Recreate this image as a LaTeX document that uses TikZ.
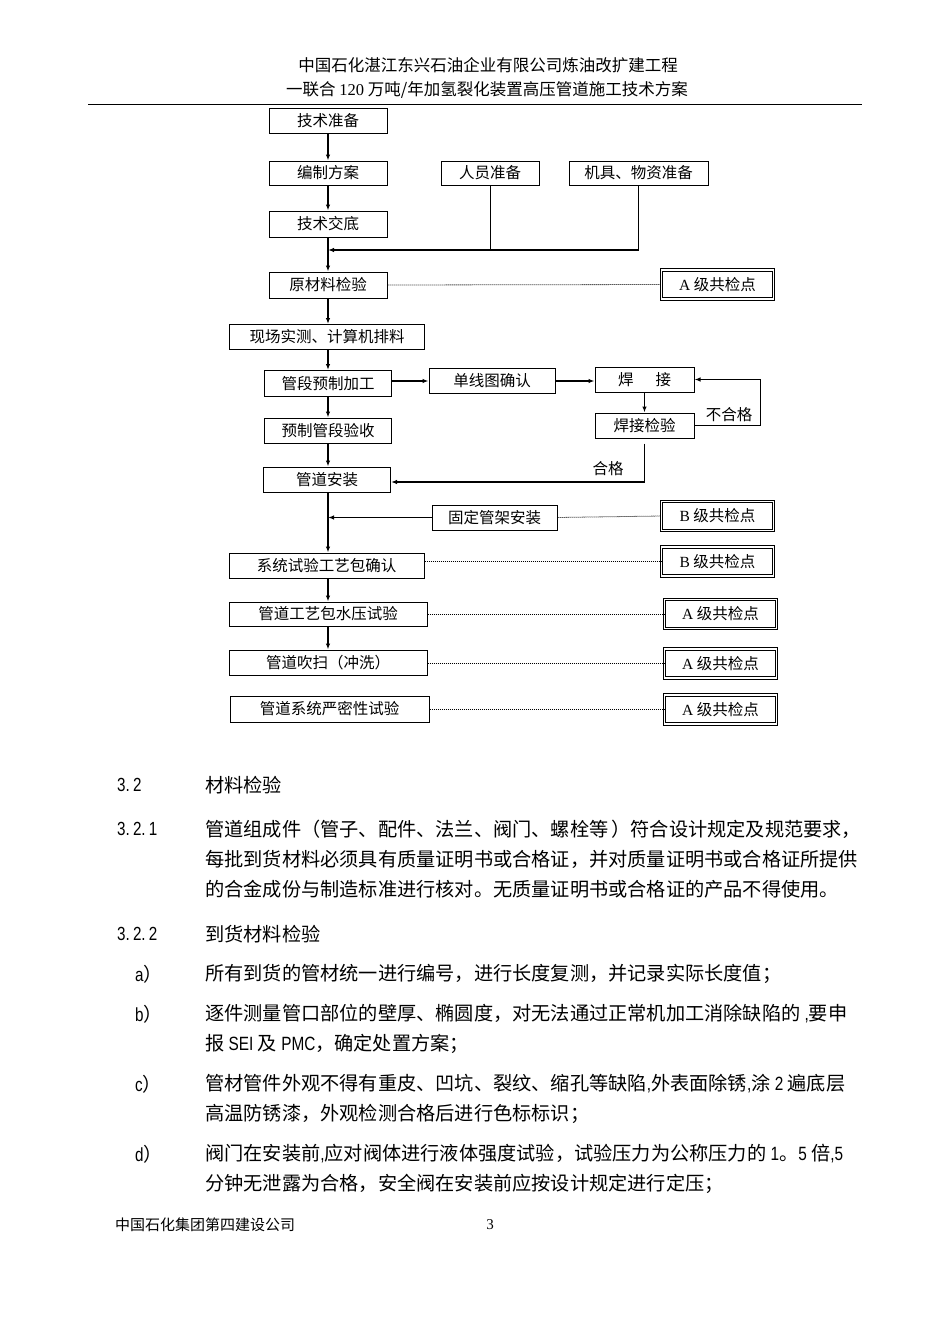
\documentclass[tikz,border=0pt]{standalone}
\usepackage{fontspec}
\setmainfont{Noto Sans CJK SC}
\newfontfamily\lat{Liberation Serif}
\newfontfamily\nar[FakeStretch=0.8]{Liberation Sans}
\usetikzlibrary{arrows.meta}
\begin{document}
\begin{tikzpicture}[x=1pt,y=-1pt,
  box/.style={draw, line width=1pt, inner sep=0pt, font=\fontsize{15.5}{16}\selectfont},
  chk/.style={draw, double, double distance=1.6pt, line width=0.8pt, inner sep=0pt, minimum width=112pt, minimum height=29pt, font=\fontsize{15.5}{16}\selectfont},
  arr/.style={line width=1.2pt, -{Latex[length=6pt,width=4.5pt]}},
  ln/.style={line width=1.2pt},
  thinln/.style={line width=0.8pt},
  dot/.style={line width=0.8pt, dash pattern=on 1pt off 1pt},
  lab/.style={font=\fontsize{15.5}{16}\selectfont, inner sep=0pt},
  hd/.style={font=\fontsize{16.5}{17}\selectfont, inner sep=0pt},
  body/.style={font=\fontsize{19.2}{20}\selectfont, inner sep=0pt, anchor=west},
  num/.style={font=\fontsize{19}{20}\selectfont, inner sep=0pt, anchor=west}]
\useasboundingbox (0,0) rectangle (950,1344);
\fill[white] (0,0) rectangle (950,1344);
% header
\node[hd] (h1) at (488,65) {中国石化湛江东兴石油企业有限公司炼油改扩建工程};
\node[hd] (h2) at (487,90) {一联合 {\lat 120} 万吨/年加氢裂化装置高压管道施工技术方案};
\coordinate (r1) at (88,104);
\coordinate (r2) at (862,104);
\draw[line width=0.8pt] (r1) -- (r2);
% flowchart boxes
\node[box, minimum width=118pt, minimum height=25pt] (s1) at (328,120.5) {技术准备};
\node[box, minimum width=118pt, minimum height=24pt] (s2) at (328,173) {编制方案};
\node[box, minimum width=98pt, minimum height=24pt] (p1) at (490,173) {人员准备};
\node[box, minimum width=139pt, minimum height=24pt] (p2) at (638.5,173) {机具、物资准备};
\node[box, minimum width=118pt, minimum height=26pt] (s3) at (328,224) {技术交底};
\node[box, minimum width=118pt, minimum height=26pt] (s4) at (328,285) {原材料检验};
\node[chk] (q1) at (717.5,284.5) {{\lat A} 级共检点};
\node[box, minimum width=195pt, minimum height=25pt] (s5) at (327,337) {现场实测、计算机排料};
\node[box, minimum width=127pt, minimum height=26pt] (s6) at (328,383.5) {管段预制加工};
\node[box, minimum width=126pt, minimum height=25pt] (w1) at (492,381) {单线图确认};
\node[box, minimum width=99pt, minimum height=25pt] (w2) at (644.5,379.5) {焊\hspace{22pt}接};
\node[box, minimum width=99pt, minimum height=25pt] (w3) at (644.5,425.5) {焊接检验};
\node[box, minimum width=127pt, minimum height=25pt] (s7) at (328,430.5) {预制管段验收};
\node[box, minimum width=127pt, minimum height=25pt] (s8) at (327,479.5) {管道安装};
\node[box, minimum width=125pt, minimum height=25pt] (g1) at (494.5,517.5) {固定管架安装};
\node[chk] (q2) at (717.5,516) {{\lat B} 级共检点};
\node[box, minimum width=195pt, minimum height=25pt] (s9) at (326.5,565.5) {系统试验工艺包确认};
\node[chk] (q3) at (717.5,561.5) {{\lat B} 级共检点};
\node[box, minimum width=198pt, minimum height=24pt] (s10) at (328,614) {管道工艺包水压试验};
\node[chk] (q4) at (720.5,614) {{\lat A} 级共检点};
\node[box, minimum width=198pt, minimum height=25pt] (s11) at (328,662.5) {管道吹扫（冲洗）};
\node[chk] (q5) at (720.5,663.5) {{\lat A} 级共检点};
\node[box, minimum width=199pt, minimum height=26pt] (s12) at (329.5,709) {管道系统严密性试验};
\node[chk] (q6) at (720.5,709.5) {{\lat A} 级共检点};
% labels
\node[lab] (l1) at (729,415) {不合格};
\node[lab] (l2) at (608,469) {合格};
% connectors
\coordinate (j) at (328,250);
\draw[arr] (s1.south) -- (s1.south |- s2.north);
\draw[arr] (s2.south) -- (s2.south |- s3.north);
\draw[arr] (s3.south) -- (s3.south |- s4.north);
\draw[thinln] (p1.south) -- (p1.south |- j);
\draw[arr] (p2.south) |- (j);
\draw[dot] (s4.east) -- (q1.west);
\draw[arr] (s4.south) -- (s4.south |- s5.north);
\draw[arr] (s4.south |- s5.south) -- (s4.south |- s6.north);
\draw[arr] (s6.east |- w1.west) -- (w1.west);
\draw[arr] (w1.east) -- (w1.east -| w2.west);
\draw[arr] (w2.south) -- (w3.north);
\draw[arr] (w3.east) -- ++(66,0) |- (w2.east);
\draw[arr] (s6.south) -- (s6.south |- s7.north);
\draw[arr] (s7.south) -- (s7.south |- s8.north);
\draw[arr] ([yshift=-5pt]w3.south) |- ([yshift=-2.5pt]s8.east);
\draw[arr] (s8.south -| s7.south) -- (s7.south |- s9.north);
\draw[arr] (g1.west) -- (g1.west -| s7.south);
\draw[dot] (g1.east) -- (q2.west);
\draw[dot] (q3.west -| s9.east) -- (q3.west);
\draw[arr] (s9.south -| s7.south) -- (s7.south |- s10.north);
\draw[dot] (q4.west -| s10.east) -- (q4.west);
\draw[arr] (s10.south) -- (s11.north);
\draw[dot] (q5.west -| s11.east) -- (q5.west);
\draw[dot] (q6.west -| s12.east) -- (q6.west);
% body text
\node[num] (n1) at (117,785) {\nar 3.\,2};
\node[body] (t1) at (205,785) {材料检验};
\node[num] (n2) at (117,829) {\nar 3.\,2.\,1};
\node[body] (t2) at (205,829) {管道组成件（管子、配件、法兰、阀门、螺栓等\,）符合设计规定及规范要求，};
\node[body] (t3) at (205,859) {每批到货材料必须具有质量证明书或合格证，并对质量证明书或合格证所提供};
\node[body] (t4) at (205,889) {的合金成份与制造标准进行核对。无质量证明书或合格证的产品不得使用。};
\node[num] (n3) at (117,934) {\nar 3.\,2.\,2};
\node[body] (t5) at (205,934) {到货材料检验};
\node[num] (n4) at (135,974) {{\nar a}）};
\node[body] (t6) at (205,974) {所有到货的管材统一进行编号，进行长度复测，并记录实际长度值；};
\node[num] (n5) at (135,1014) {{\nar b}）};
\node[body] (t7) at (205,1014) {逐件测量管口部位的壁厚、椭圆度，对无法通过正常机加工消除缺陷的 {\nar ,}要申};
\node[body] (t8) at (205,1044) {报 {\nar SEI} 及 {\nar PMC}，确定处置方案；};
\node[num] (n6) at (135,1084) {{\nar c}）};
\node[body] (t9) at (205,1084) {管材管件外观不得有重皮、凹坑、裂纹、缩孔等缺陷{\nar ,}外表面除锈{\nar ,}涂 {\nar 2} 遍底层};
\node[body] (t10) at (205,1114) {高温防锈漆，外观检测合格后进行色标标识；};
\node[num] (n7) at (135,1154) {{\nar d}）};
\node[body] (t11) at (205,1154) {阀门在安装前{\nar ,}应对阀体进行液体强度试验，试验压力为公称压力的 {\nar 1}。{\nar 5} 倍{\nar ,5}};
\node[body] (t12) at (205,1184) {分钟无泄露为合格，安全阀在安装前应按设计规定进行定压；};
% footer
\node[font=\fontsize{15}{16}\selectfont, inner sep=0pt, anchor=west] (f1) at (115,1225) {中国石化集团第四建设公司};
\node[font=\lat\fontsize{15}{16}\selectfont, inner sep=0pt] (f2) at (490,1225) {3};
\end{tikzpicture}
\end{document}
